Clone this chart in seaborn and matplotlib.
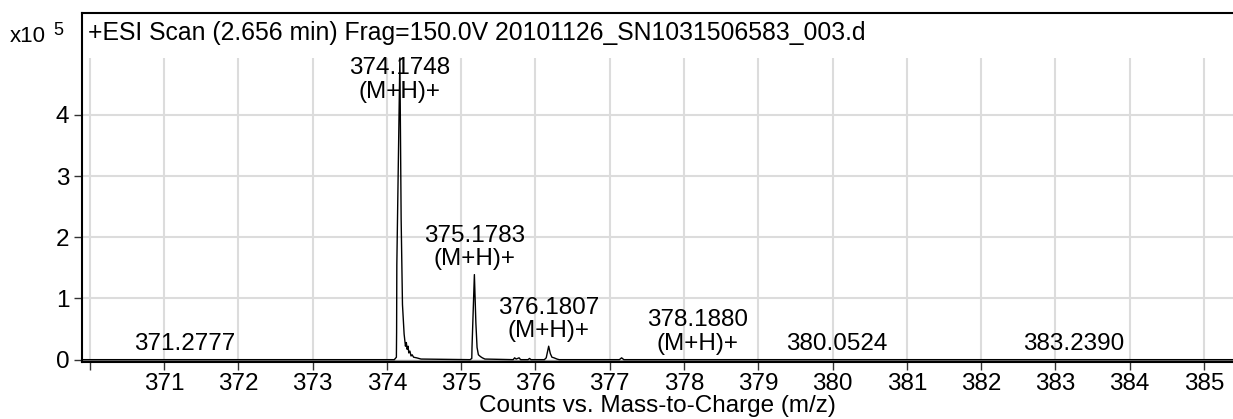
import numpy as np
import pandas as pd
import matplotlib
matplotlib.use("Agg")
import matplotlib.pyplot as plt
import seaborn as sns

# Profile spectrum: m/z and counts (in units of 1e5)
mz = [369.90, 374.100, 374.128, 374.131, 374.134, 374.175, 374.192, 374.210,
      374.232, 374.250, 374.262, 374.272, 374.285, 374.295, 374.310, 374.325,
      374.340, 374.360, 374.400, 374.460, 375.120, 375.143, 375.146, 375.178,
      375.198, 375.214, 375.232, 375.260, 375.285, 375.320, 375.700, 375.720,
      375.740, 375.780, 375.800, 375.900, 375.920, 375.940, 376.120, 376.145,
      376.178, 376.200, 376.222, 376.250, 376.270, 376.290, 376.320, 377.130,
      377.160, 377.190, 385.40]
counts = [0.00, 0.00, 0.04, 0.45, 1.55, 4.93, 2.30, 0.90,
          0.42, 0.22, 0.28, 0.17, 0.22, 0.11, 0.14, 0.06,
          0.08, 0.04, 0.03, 0.01, 0.00, 0.02, 0.20, 1.39,
          0.60, 0.20, 0.08, 0.05, 0.03, 0.01, 0.00, 0.03,
          0.01, 0.03, 0.00, 0.00, 0.02, 0.00, 0.00, 0.03,
          0.22, 0.10, 0.04, 0.03, 0.02, 0.01, 0.00, 0.00,
          0.03, 0.00, 0.00]

# Peak annotations
label_mz = [371.2777, 374.1748, 375.1783, 376.1807, 378.1880, 380.0524, 383.2390]
label_text = ["371.2777", "374.1748\n(M+H)+", "375.1783\n(M+H)+",
              "376.1807\n(M+H)+", "378.1880\n(M+H)+", "380.0524", "383.2390"]

x_ticks = list(range(370, 386))
x_ticklabels = [""] + [str(v) for v in range(371, 386)]
y_ticks = [0, 1, 2, 3, 4]

title = "+ESI Scan (2.656 min) Frag=150.0V 20101126_SN1031506583_003.d"
xlabel = "Counts vs. Mass-to-Charge (m/z)"

sns.set_style("white")
plt.rcParams["font.family"] = ["Liberation Sans", "DejaVu Sans"]
plt.rcParams.update({"text.color": "black", "axes.labelcolor": "black",
                     "xtick.color": "black", "ytick.color": "black"})

W, H = 1233, 419
fig = plt.figure(figsize=(W / 100, H / 100), dpi=100)
ax = fig.add_axes([82 / W, 1 - 361.5 / H, (W - 82) / W, (361.5 - 13) / H])

df = pd.DataFrame({"mz": mz, "counts": counts})
sns.lineplot(data=df, x="mz", y="counts", ax=ax, color="black", lw=1.0,
             estimator=None, sort=False, zorder=3)

ax.set_xlim(369.896, 385.39)
ax.set_ylim(-0.03, 5.665)

# grid: verticals stop at the spectrum maximum, horizontals span the width
grid_top = max(counts)
ax.vlines(x_ticks, 0, grid_top, colors="#dcdcdc", lw=1.5, zorder=1)
for yv in y_ticks[1:]:
    ax.axhline(yv, color="#dcdcdc", lw=1.5, zorder=1)
ax.axhline(0, color="#9a9a9a", lw=1.0, zorder=2)

ax.set_xticks(x_ticks)
ax.set_xticklabels(x_ticklabels)
ax.set_yticks(y_ticks)
ax.set_yticklabels([str(v) for v in y_ticks])
ax.tick_params(axis="both", length=6, width=1, color="#333333",
               labelsize=17.5, direction="out")
ax.tick_params(axis="x", bottom=True, pad=2)
ax.tick_params(axis="y", left=True, pad=3)

for side in ["left", "top", "bottom"]:
    ax.spines[side].set_visible(True)
    ax.spines[side].set_color("black")
    ax.spines[side].set_linewidth(1.5)
ax.spines["right"].set_visible(False)

ax.set_xlabel(xlabel, fontsize=17.5, labelpad=0)
ax.set_ylabel("")

# peak labels sit just above the trace, capped below the title band
label_cap = 4.12
for m, t in zip(label_mz, label_text):
    yv = min(float(np.interp(m, mz, counts)), label_cap)
    ax.annotate(t, xy=(m, yv), xytext=(0, 3.5), textcoords="offset points",
                ha="center", va="bottom", fontsize=17.5, linespacing=1.1,
                zorder=4)

ax.text(6 / (W - 82), (361.5 - 33) / (361.5 - 13), title, transform=ax.transAxes,
        ha="left", va="center", fontsize=17.8)

fig.text(10 / W, 1 - 42 / H, "x10", ha="left", va="baseline", fontsize=16)
fig.text(53 / W, 1 - 35 / H, "5", ha="left", va="baseline", fontsize=13)

fig.savefig("out.png", dpi=100)
